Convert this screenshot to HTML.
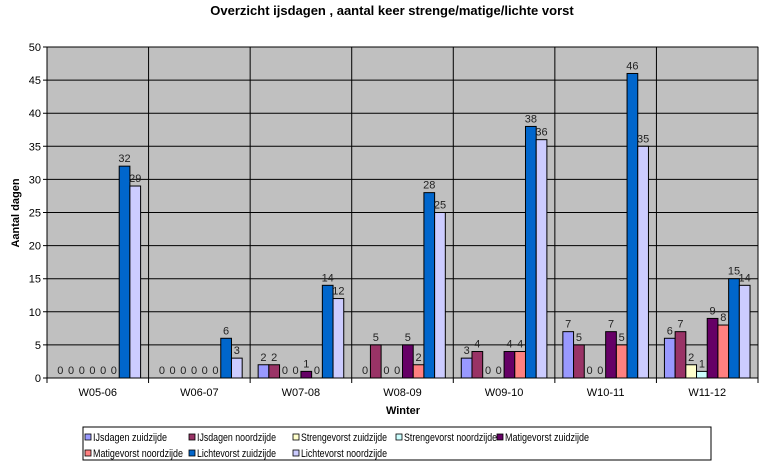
<!DOCTYPE html>
<html><head><meta charset="utf-8"><style>
body{margin:0;background:#fff;font-family:"Liberation Sans",Arial,sans-serif}
svg text{font-family:"Liberation Sans",Arial,sans-serif}
</style></head><body>
<svg id="c" width="771" height="466" xmlns="http://www.w3.org/2000/svg">
<text x="392" y="15" text-anchor="middle" font-size="13" font-weight="bold">Overzicht ijsdagen , aantal keer strenge/matige/lichte vorst</text>
<text transform="translate(19,213) rotate(-90)" text-anchor="middle" font-size="11" font-weight="bold">Aantal dagen</text>
<text x="403" y="414" text-anchor="middle" font-size="11" font-weight="bold">Winter</text>
<g id="plot"></g>
<g id="legend"></g>
</svg>
<script>
const categories=["W05-06","W06-07","W07-08","W08-09","W09-10","W10-11","W11-12"];
const seriesNames=["IJsdagen zuidzijde","IJsdagen noordzijde","Strengevorst zuidzijde","Strengevorst noordzijde","Matigevorst zuidzijde","Matigevorst noordzijde","Lichtevorst zuidzijde","Lichtevorst noordzijde"];
const ijsZ=[0,0,2,0,3,7,6];
const ijsN=[0,0,2,5,4,5,7];
const strengZ=[0,0,0,0,0,0,2];
const strengN=[0,0,0,0,0,0,1];
const matigZ=[0,0,1,5,4,7,9];
const matigN=[0,0,0,2,4,5,8];
const lichtZ=[32,6,14,28,38,46,15];
const lichtN=[29,3,12,25,36,35,14];
const yTicks=[0,5,10,15,20,25,30,35,40,45,50];
const series=[ijsZ,ijsN,strengZ,strengN,matigZ,matigN,lichtZ,lichtN];
const colors=["#9999ff","#993366","#ffffcc","#ccffff","#660066","#ff8080","#0066cc","#ccccff"];
const NS="http://www.w3.org/2000/svg";
const L=47,R=758,T=47,B=378,yMax=50;
const y=v=>B-(v/yMax)*(B-T);
const gw=(R-L)/categories.length;
const bw=10.7;
const x=(ci,si)=>L+ci*gw+8+si*bw;
const plot=document.getElementById('plot');
function mk(tag,attrs,parent){const e=document.createElementNS(NS,tag);for(const k in attrs)e.setAttribute(k,attrs[k]);parent.appendChild(e);return e;}
const bg=mk('rect',{x:L,y:T,width:R-L,height:B-T,fill:'#c0c0c0',stroke:'#808080'},plot);


yTicks.forEach(t=>{
  const g=mk('line',{x1:L-4,x2:R,y1:y(t),y2:y(t),stroke:'#000','stroke-width':1},plot);
  
  
  const tx=mk('text',{x:L-6,y:y(t)+4,'text-anchor':'end','font-size':11},plot);
  tx.textContent=t;
  
  
});
for(let i=0;i<=categories.length;i++){
  const xx=L+i*gw;
  const l=mk('line',{x1:xx,x2:xx,y1:T,y2:B+5,stroke:'#000'},plot);
  
  
}
categories.forEach((c,ci)=>{
  const t=mk('text',{x:L+ci*gw+gw/2,y:396,'text-anchor':'middle','font-size':11},plot);
  t.textContent=c;
  
  
  series.forEach((s,si)=>{
    const v=s[ci];
    if(v>0){
      const r=mk('rect',{x:x(ci,si),y:y(v),width:bw,height:B-y(v),fill:colors[si],stroke:'#000','stroke-width':1},plot);
      
      
    }
    const lb=mk('text',{x:x(ci,si)+bw/2,y:y(v)-4,'text-anchor':'middle','font-size':11,fill:'#222'},plot);
    lb.textContent=v;
    
    
  });
});
mk('line',{x1:L,x2:R,y1:B,y2:B,stroke:'#000'},plot);
const lg=document.getElementById('legend');
const box=mk('rect',{x:83,y:427,width:628,height:33,fill:'#fff',stroke:'#000'},lg);


const lx=[85,189,293,396,497,85,189,293];
const lw=[74,79,86,93,84,90,79,86];
seriesNames.forEach((n,i)=>{
  const row=i<5?0:1, yy=row?457:441;
  const sw=mk('rect',{x:lx[i],y:yy-7,width:6,height:6,fill:colors[i],stroke:'#000','stroke-width':0.8},lg);
  
  
  const t=mk('text',{x:lx[i]+8,y:yy,'font-size':11,textLength:lw[i],lengthAdjust:'spacingAndGlyphs'},lg);
  t.textContent=n;
  
  
});
</script>
</body></html>
